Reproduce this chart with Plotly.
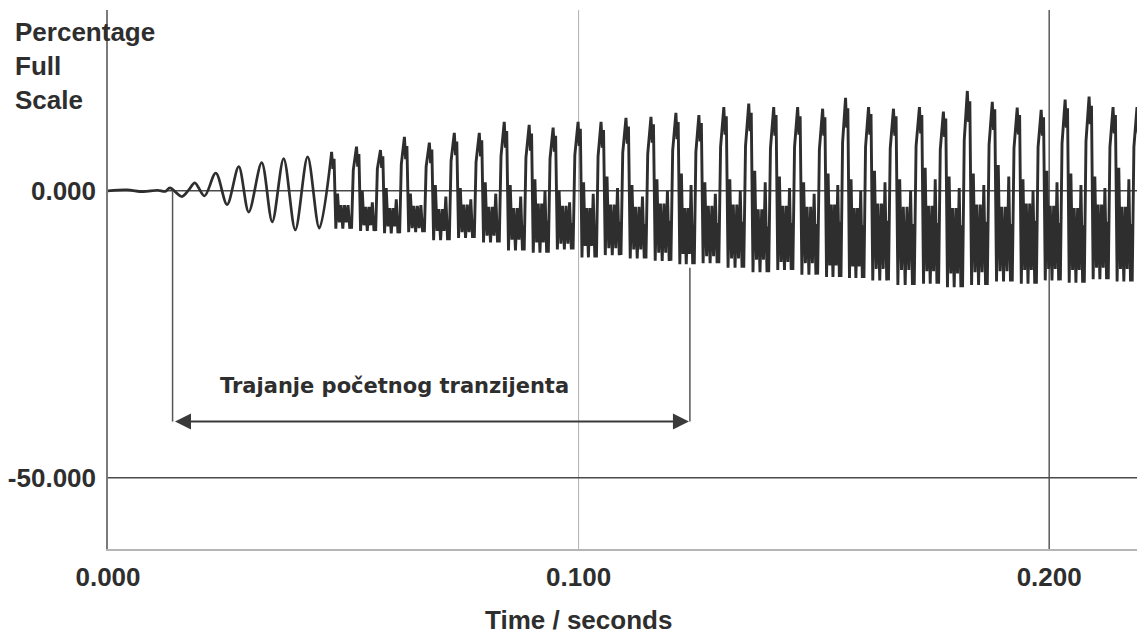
import plotly.graph_objects as go

# ---- data ----
# quiet start and first (smooth) growing cycles
early_t = [0.0, 0.004, 0.0075, 0.0105, 0.0122, 0.01315, 0.0157, 0.0172, 0.01845, 0.0205,
           0.02291, 0.0253, 0.02778, 0.0299, 0.03266, 0.0349, 0.03733, 0.0398, 0.04242,
           0.0449, 0.04751]
early_v = [0.0, 0.15, -0.15, 0.1, -0.1, 0.5, -1.0, 0.2, 1.4, -0.9,
           3.1, -2.4, 4.2, -3.7, 4.9, -5.4, 5.6, -6.8, 5.9,
           -6.5, 6.8]

# later cycles (one entry per cycle)
peak_t = [0.04751, 0.05281, 0.0579, 0.06299, 0.06829, 0.07359, 0.0789, 0.0842, 0.0895, 0.09459,
          0.09989, 0.10477, 0.11007, 0.11538, 0.12068, 0.12556, 0.13086, 0.13616, 0.14146, 0.14655,
          0.15186, 0.15673, 0.16161, 0.16691, 0.17243, 0.17752, 0.18261, 0.18791, 0.19321, 0.1983,
          0.20339, 0.20848, 0.21357, 0.21866]
peak_v = [6.8, 7.7, 7.1, 9.4, 8.4, 10.1, 10.1, 12.0, 11.5, 11.0,
          12.0, 12.0, 12.7, 12.9, 13.6, 13.2, 14.6, 15.2, 14.6, 14.6,
          14.3, 16.2, 14.6, 14.3, 14.6, 13.8, 17.4, 15.5, 14.5, 14.1,
          15.9, 16.4, 14.6, 14.6]
rise_v = [3.0, 3.6, 3.8, 4.6, 4.2, 5.2, 5.0, 6.0, 5.8, 5.6,
          6.2, 6.0, 6.6, 6.4, 7.0, 6.8, 7.6, 7.8, 7.4, 7.6,
          7.2, 8.4, 7.6, 7.4, 7.8, 7.2, 8.8, 8.0, 7.4, 7.6,
          8.2, 8.6, 7.6, 7.6]
dip_v = [3.8, 4.2, 4.0, 5.5, 4.8, 6.2, 6.0, 7.5, 7.0, 6.8,
         7.8, 7.5, 8.2, 8.4, 9.0, 8.6, 9.8, 10.4, 9.6, 9.8,
         9.6, 11.0, 9.8, 9.6, 10.0, 9.4, 12.0, 10.6, 9.8, 9.6,
         11.0, 11.6, 10.0, 10.0]
top2_v = [5.6, 6.4, 6.0, 7.8, 7.2, 8.6, 8.8, 10.4, 10.0, 9.6,
          10.8, 10.6, 11.2, 11.6, 12.0, 11.8, 13.0, 13.6, 13.2, 13.0,
          12.8, 14.4, 13.4, 13.0, 13.2, 12.6, 15.6, 14.2, 13.2, 12.8,
          14.4, 14.8, 13.2, 13.4]
low_v = [-6.6, -7.0, -7.4, -7.2, -8.6, -8.2, -9.0, -10.4, -10.8, -10.2,
         -11.6, -11.2, -11.8, -12.2, -12.8, -12.6, -13.4, -14.2, -13.8, -14.6,
         -15.0, -15.2, -15.6, -16.4, -16.2, -16.8, -16.4, -15.8, -16.2, -15.6,
         -16.0, -15.4, -15.8, -15.2]
low2_v = [-5.5, -6.0, -6.2, -6.5, -7.0, -7.2, -7.8, -8.5, -9.0, -9.2,
          -9.6, -10.0, -10.2, -10.8, -11.0, -11.4, -11.8, -12.0, -12.4, -12.6,
          -13.0, -13.2, -13.6, -13.8, -14.0, -14.4, -14.2, -14.0, -13.8, -13.6,
          -13.8, -13.4, -13.6, -13.2]
band_top_v = [-2.5, -2.8, -3.0, -2.6, -3.2, -2.4, -2.8, -3.0, -2.2, -2.6,
              -3.0, -2.4, -2.8, -2.2, -3.0, -2.6, -2.4, -3.2, -2.6, -2.8,
              -2.4, -3.0, -2.2, -2.8, -2.6, -3.0, -2.4, -2.8, -2.2, -2.6,
              -3.0, -2.4, -2.8, -2.6]
spike_v = [-0.5, 0.0, 0.5, -0.5, 1.0, 0.5, 1.5, 1.0, 2.0, 0.0,
           1.5, 2.5, 1.0, 2.0, 3.0, 1.5, 2.0, 3.5, 2.5, 1.5,
           3.0, 2.0, 3.5, 2.0, 4.0, 2.5, 3.0, 4.5, 2.0, 3.5,
           3.0, 2.5, 4.0, 3.0]

# annotation of the initial transient
marker_t = [0.01372, 0.12365]
marker_top = [0.0, -13.4]
arrow_y = -40.2
label_t = 0.0609
label_y = -34.0
label_text = "Trajanje početnog tranzijenta"

x_ticks = [0.0, 0.1, 0.2]
x_ticktext = ["0.000", "0.100", "0.200"]
y_ticks = [0.0, -50.0]
y_ticktext = ["0.000", "-50.000"]
x_range = [0.0, 0.22036]
y_range = [-62.4, 31.5]

# ---- build the jagged waveform polyline from the per-cycle readings ----
sig_t, sig_v = [], []
n = len(peak_t)
for i in range(n):
    T = (peak_t[i + 1] - peak_t[i]) if i + 1 < n else (peak_t[i] - peak_t[i - 1])
    Tp = (peak_t[i] - peak_t[i - 1]) if i > 0 else T
    t0 = peak_t[i]
    if i > 0:
        sig_t.append(t0 - 0.13 * Tp)
        sig_v.append(rise_v[i])
    pattern = [
        (0.00, peak_v[i]), (0.05, dip_v[i]), (0.10, top2_v[i]),
        (0.17, low_v[i]), (0.24, spike_v[i]), (0.31, low2_v[i]), (0.38, band_top_v[i]),
        (0.45, low_v[i]), (0.52, band_top_v[i]), (0.59, low2_v[i]), (0.66, spike_v[i] - 2.0),
        (0.73, low_v[i]), (0.79, band_top_v[i] - 3.0), (0.80, low_v[i]),
    ]
    for f, v in pattern:
        sig_t.append(t0 + f * T)
        sig_v.append(v)

ink = "#2e2e2e"
font_main = dict(family="Liberation Sans, Arial, sans-serif", size=26, color="#2e2e2e", weight="bold")

fig = go.Figure()
fig.add_trace(go.Scatter(x=early_t, y=early_v, mode="lines",
                         line=dict(color=ink, width=2.7, shape="spline", smoothing=0.9),
                         hoverinfo="skip", showlegend=False))
fig.add_trace(go.Scatter(x=sig_t, y=sig_v, mode="lines",
                         line=dict(color=ink, width=2.9),
                         hoverinfo="skip", showlegend=False))

shapes = []
# grid lines
shapes.append(dict(type="line", xref="x", yref="y", x0=x_ticks[1], x1=x_ticks[1], y0=y_range[0], y1=y_range[1],
                   line=dict(color="#b0b0b0", width=1), layer="below"))
shapes.append(dict(type="line", xref="x", yref="y", x0=x_ticks[2], x1=x_ticks[2], y0=y_range[0], y1=y_range[1],
                   line=dict(color="#5a5a5a", width=1.5), layer="below"))
for yv in y_ticks:
    shapes.append(dict(type="line", xref="x", yref="y", x0=x_range[0], x1=x_range[1], y0=yv, y1=yv,
                       line=dict(color="#4a4a4a", width=1.6), layer="below"))
# transient markers
for tm, top in zip(marker_t, marker_top):
    shapes.append(dict(type="line", xref="x", yref="y", x0=tm, x1=tm, y0=top, y1=arrow_y,
                       line=dict(color="#555555", width=1.5)))

annotations = [
    dict(x=marker_t[1] - 0.0002, y=arrow_y, ax=marker_t[0] + 0.0002, ay=arrow_y, xref="x", yref="y",
         axref="x", ayref="y", text="", showarrow=True, arrowhead=2, arrowside="end+start",
         arrowsize=1.6, arrowwidth=2, arrowcolor="#3a3a3a", standoff=0, startstandoff=0),
    dict(x=label_t, y=label_y, xref="x", yref="y", text=label_text, showarrow=False,
         font=dict(family="DejaVu Sans, Verdana, sans-serif", size=21, color="#2e2e2e", weight="bold"),
         xanchor="center", yanchor="middle"),
    dict(x=-0.092, y=0.99, xref="paper", yref="paper", text="Percentage<br>Full<br>Scale",
         showarrow=False, align="left", xanchor="left", yanchor="top", font=font_main),
    dict(x=x_ticks[1], y=0, xref="x", yref="paper", text="Time / seconds", showarrow=False,
         xanchor="center", yanchor="middle", yshift=-71, font=font_main),
]

# the page adds an 8px body margin, so the figure is drawn 8px smaller and shifted
fig.update_layout(
    width=1137, height=632,
    margin=dict(l=98, r=0, t=2, b=91),
    paper_bgcolor="white", plot_bgcolor="white",
    shapes=shapes, annotations=annotations,
    xaxis=dict(range=x_range, tickvals=x_ticks, ticktext=x_ticktext, showgrid=False, zeroline=False,
               showline=True, linecolor="#b5b5b5", linewidth=1.5, ticks="", ticklabelstandoff=4,
               tickfont=font_main, fixedrange=True),
    yaxis=dict(range=y_range, tickvals=y_ticks, ticktext=y_ticktext, showgrid=False, zeroline=False,
               showline=True, linecolor="#7a7a7a", linewidth=1.5, ticks="", ticklabelstandoff=5,
               tickfont=font_main, fixedrange=True),
)

fig.write_html("out.html")
